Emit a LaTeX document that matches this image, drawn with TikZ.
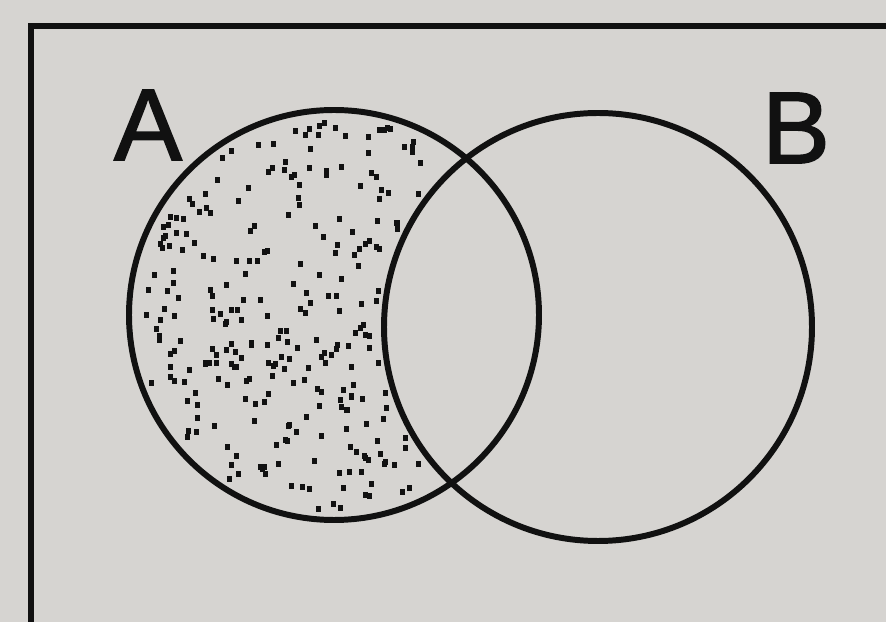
\documentclass[tikz,border=0pt]{standalone}
\usepackage{fontspec}
\setmainfont{Liberation Sans}
\newfontfamily\setfont[FakeBold=1.6]{Liberation Sans}
\usepackage{xcolor}
\usepackage{tikz}
\usetikzlibrary{positioning, calc}
\definecolor{paper}{HTML}{D6D4D1}
\definecolor{ink}{HTML}{111111}

\begin{document}
\begin{tikzpicture}[
    x=0.02cm, y=0.02cm,
    frame/.style={draw=ink, line width=2.9pt},
    setline/.style={draw=ink, line width=3.4pt},
    setlabel/.style={font=\setfont\fontsize{58}{60}\selectfont, text=ink, inner sep=0pt},
    speck/.style={fill=ink}
]
% Paper
\fill[paper] (0,0) rectangle (886,622);
\useasboundingbox (0,0) rectangle (886,622);
\clip (0,0) rectangle (886,622);

% Universe frame
\draw[frame] (900,596) -- (31,596) -- (31,-20);

% Dots in A but not in B
\pgfmathsetseed{42}
\foreach \k in {1,...,560}{
  \pgfmathsetmacro{\px}{129+rnd*410}
  \pgfmathsetmacro{\py}{100+rnd*415}
  \pgfmathsetmacro{\da}{veclen(\px-334,\py-307)}
  \pgfmathsetmacro{\db}{veclen(\px-598,\py-295)}
  \pgfmathparse{and(\da<196,\db>222)}
  \ifdim\pgfmathresult pt>0.5pt
    \fill[speck] (\px-2.5,\py-3) rectangle ++(5,6);
  \fi
}

% Sets
\draw[setline] (334,307) circle [radius=205];
\draw[setline] (598,295) circle [radius=214];

% Labels
\node[setlabel] (labelA) at (148,497) {A};
\node[setlabel] (labelB) at (796,494) {B};
\end{tikzpicture}
\end{document}
